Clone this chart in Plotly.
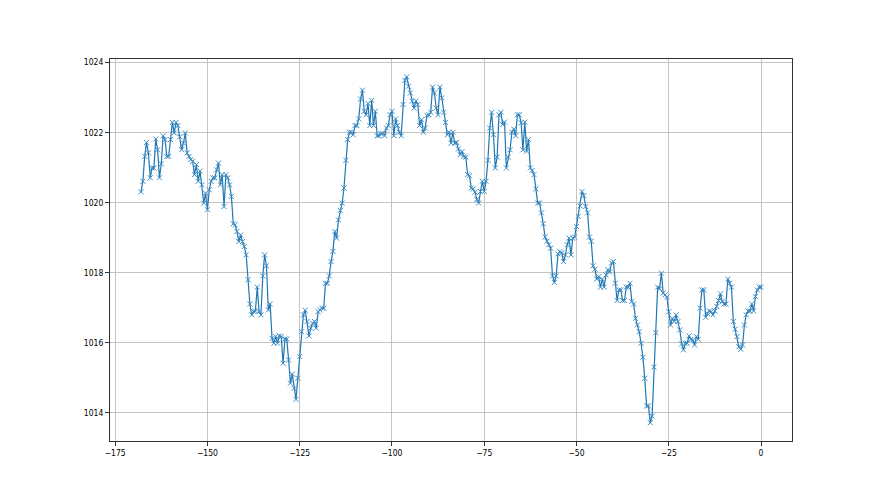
import numpy as np
import plotly.graph_objects as go

# pressure readings, every half hour over the last week (hours before now)
pressure = [
    1020.31, 1020.61, 1021.32, 1021.72, 1021.42, 1020.71, 1020.99, 1020.99, 1021.82, 1021.51,
    1020.71, 1021.11, 1021.91, 1021.8, 1021.32, 1021.32, 1021.8, 1022.29, 1021.99, 1022.29,
    1022.2, 1021.88, 1021.51, 1021.7, 1021.99, 1021.42, 1021.32, 1021.23, 1021.18, 1020.8,
    1021.09, 1020.61, 1020.9, 1020.51, 1019.99, 1020.27, 1019.8, 1020.37, 1020.61, 1020.71,
    1020.71, 1020.94, 1021.13, 1020.51, 1020.8, 1019.89, 1020.8, 1020.71, 1020.51, 1020.18,
    1019.4, 1019.37, 1019.18, 1018.89, 1019.08, 1018.89, 1018.75, 1018.51, 1017.8, 1017.11,
    1016.8, 1016.9, 1016.91, 1017.59,
    1016.89, 1016.8, 1017.91, 1018.51, 1018.2, 1016.94, 1017.11, 1016.13, 1015.99, 1016.18,
    1015.99, 1016.2, 1016.18, 1015.42, 1016.11, 1016.11, 1015.51, 1014.85, 1015.11, 1014.7,
    1014.39, 1014.99, 1015.61, 1016.32, 1016.8, 1016.93, 1016.61, 1016.2, 1016.42, 1016.56,
    1016.61, 1016.42, 1016.89, 1016.94, 1016.99, 1016.99, 1017.7, 1017.7, 1017.91, 1018.32,
    1018.61, 1019.18, 1018.99, 1019.51, 1019.78, 1019.99, 1020.42, 1021.21, 1021.8, 1022.01,
    1022.01, 1021.94, 1022.2, 1022.2, 1022.39, 1022.96, 1023.21, 1022.61, 1022.51, 1022.83,
    1022.2, 1022.92, 1022.2, 1022.61,
    1021.91, 1021.91, 1021.97, 1021.98, 1021.91, 1022.13, 1022.2, 1022.51, 1022.61, 1021.91,
    1022.39, 1022.2, 1022.01, 1021.91, 1022.8, 1023.49, 1023.59, 1023.32, 1023.13, 1022.9,
    1022.7, 1022.9, 1022.8, 1022.2, 1022.37, 1022.01, 1022.13, 1022.49, 1022.51, 1022.58,
    1023.3, 1023.13, 1022.7, 1022.51, 1023.3, 1022.99, 1022.58, 1022.29, 1021.94, 1022.01,
    1021.7, 1022.01, 1021.7, 1021.72, 1021.53, 1021.37, 1021.46, 1021.32, 1021.3, 1020.8,
    1020.77, 1020.42, 1020.39, 1020.3, 1020.09, 1019.99, 1020.32, 1020.61, 1020.32, 1020.61,
    1021.21, 1022.13, 1022.58,
    1021.94, 1020.99, 1021.3, 1022.51, 1022.58, 1022.23, 1022.3, 1020.99, 1021.3, 1021.51,
    1022.01, 1022.1, 1021.91, 1022.51, 1022.51, 1022.28, 1021.51, 1022.3, 1021.47, 1021.8,
    1020.99, 1020.92, 1020.8, 1020.39, 1019.99, 1019.99, 1019.71, 1019.4, 1019.02, 1018.9,
    1018.8, 1018.7, 1017.91, 1017.72, 1017.91, 1018.54, 1018.6, 1018.57, 1018.32, 1018.51,
    1018.8, 1018.99, 1018.51, 1018.99, 1019.02, 1019.32, 1019.61, 1019.91, 1020.32, 1020.2,
    1019.89, 1019.71, 1019.02, 1018.9, 1018.2, 1018.1, 1017.82, 1017.89, 1017.59, 1017.82,
    1017.59, 1017.94, 1018.09, 1018.02, 1018.28, 1018.32,
    1017.7, 1017.21, 1017.51, 1017.51, 1017.21, 1017.21, 1017.59, 1017.59, 1017.7, 1017.18,
    1017.11, 1016.7, 1016.51, 1016.32, 1015.99, 1015.59, 1014.99, 1014.2, 1014.2, 1013.72,
    1013.91, 1015.31, 1016.29, 1017.59, 1017.54, 1017.99, 1017.42, 1017.37, 1017.31, 1016.89,
    1016.51, 1016.7, 1016.61, 1016.8, 1016.61, 1016.37, 1015.97, 1015.8, 1015.99, 1015.99,
    1016.2, 1016.1, 1016.08, 1015.94, 1016.18, 1016.1, 1016.99, 1017.51, 1017.51, 1016.73,
    1016.84, 1016.91, 1016.89, 1016.8, 1016.91, 1017.04, 1017.21, 1017.4, 1017.18, 1017.11,
    1017.11, 1017.82, 1017.7, 1017.59, 1016.61, 1016.39, 1016.18, 1015.89, 1015.82, 1015.94,
    1016.51, 1016.8, 1016.91, 1016.91, 1017.11, 1016.91, 1017.32, 1017.51, 1017.59, 1017.59,
]
hours = np.linspace(-168, 0, len(pressure))

x_ticks = [-175, -150, -125, -100, -75, -50, -25, 0]
y_ticks = [1014, 1016, 1018, 1020, 1022, 1024]

fig = go.Figure()
fig.add_trace(
    go.Scatter(
        x=hours,
        y=pressure,
        mode='lines+markers',
        line=dict(color='#1f77b4', width=1.2),
        marker=dict(symbol='x-thin', size=5, line=dict(color='#3d8cc4', width=1)),
        showlegend=False,
    )
)

axis_style = dict(
    showline=True,
    linecolor='#333333',
    linewidth=1,
    mirror=True,
    ticks='outside',
    ticklen=4,
    tickcolor='#333333',
    showgrid=True,
    gridcolor='#c4c4c4',
    gridwidth=1,
    zeroline=False,
    tickfont=dict(family='DejaVu Sans Condensed, DejaVu Sans', size=8.5, color='black'),
)

# the page body adds an 8px offset, so the figure is a bit smaller than the window
fig.update_layout(
    width=872,
    height=487,
    margin=dict(l=102, r=88, t=51, b=54),
    paper_bgcolor='white',
    plot_bgcolor='white',
    xaxis=dict(range=[-176.4, 8.4], tickvals=x_ticks, **axis_style),
    yaxis=dict(range=[1013.2, 1024.1], tickvals=y_ticks, **axis_style),
)

fig.write_html("out.html")
